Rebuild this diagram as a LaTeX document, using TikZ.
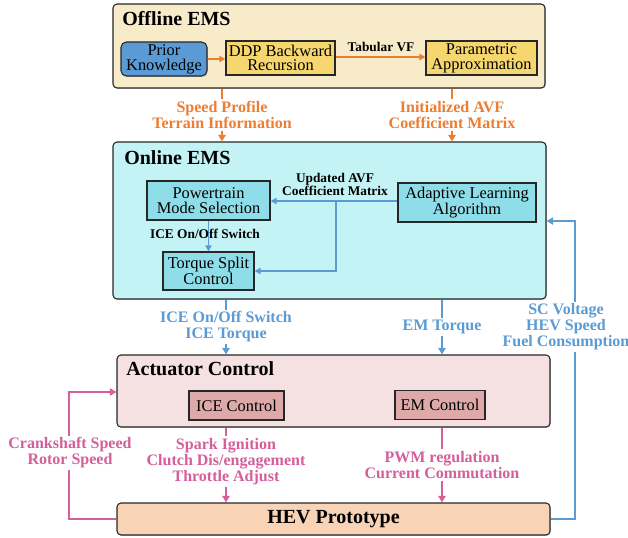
\documentclass[tikz,border=0pt]{standalone}
\usepackage{fontspec}
\setmainfont{Liberation Serif}
\usetikzlibrary{arrows.meta,shadows}

\definecolor{offlinebg}{HTML}{F7EBC9}
\definecolor{onlinebg}{HTML}{C4F3F6}
\definecolor{actbg}{HTML}{F5E1E2}
\definecolor{hevbg}{HTML}{F9D3B5}
\definecolor{priorbg}{HTML}{5B9BD5}
\definecolor{goldbg}{HTML}{F6D66E}
\definecolor{cyanbg}{HTML}{8EDDE8}
\definecolor{rosebg}{HTML}{DEA9A9}
\definecolor{orangeC}{HTML}{ED7D31}
\definecolor{blueC}{HTML}{5B9BD5}
\definecolor{pinkC}{HTML}{D45F9B}
\definecolor{edge}{HTML}{262626}

\begin{document}
\begin{tikzpicture}[x=0.75pt,y=-0.75pt,
  group/.style={draw=edge, line width=0.8pt, rounded corners=3pt, inner sep=0pt,
    drop shadow={shadow xshift=0.7pt, shadow yshift=-0.7pt, opacity=0.35}},
  blk/.style={draw=edge, line width=0.8pt, align=center, inner sep=0pt,
    font=\fontsize{12.3}{11}\selectfont,
    drop shadow={shadow xshift=0.7pt, shadow yshift=-0.7pt, opacity=0.35}},
  grouptitle/.style={anchor=west, inner sep=0pt, font=\bfseries\fontsize{15}{15}\selectfont},
  lbl/.style={align=center, fill=white, inner sep=1.5pt, font=\bfseries\fontsize{12}{12}\selectfont},
  smalllbl/.style={align=center, inner sep=0pt, font=\bfseries\fontsize{10}{10}\selectfont},
  conn/.style={line width=1.4pt, -{Triangle[length=5pt,width=5.5pt]}},
  thinconn/.style={line width=1.1pt, -{Triangle[length=4.5pt,width=4.5pt]}},
  loop/.style={line width=1.4pt}
]
\useasboundingbox (0,0) rectangle (628,537);

% ---------- Offline EMS ----------
\node[group, fill=offlinebg, minimum width=324pt, minimum height=63pt] (offline) at (329,46) {};
\node[grouptitle] (offtitle) at (122,19) {Offline EMS};
\node[blk, fill=priorbg, rounded corners=4pt, minimum width=64.5pt, minimum height=25.5pt] (prior) at (164,59) {Prior\\Knowledge};
\node[blk, fill=goldbg, minimum width=81.75pt, minimum height=25.5pt] (ddp) at (280.5,58) {DDP Backward\\Recursion};
\node[blk, fill=goldbg, minimum width=83.25pt, minimum height=25.5pt] (param) at (481.5,58) {Parametric\\Approximation};
\draw[thinconn, orangeC] (prior.east) -- (prior.east -| ddp.west);
\draw[thinconn, orangeC] (ddp.east |- 0,57) -- (param.west |- 0,57);
\node[smalllbl] (tabvf) at (381,47) {Tabular VF};

% ---------- Online EMS ----------
\node[group, fill=onlinebg, minimum width=324.75pt, minimum height=117.75pt] (online) at (329.5,220.5) {};
\node[grouptitle] (ontitle) at (124,158) {Online EMS};
\node[blk, fill=cyanbg, minimum width=92.25pt, minimum height=29.25pt] (pms) at (208.5,200.5) {Powertrain\\Mode Selection};
\node[blk, fill=cyanbg, minimum width=103.5pt, minimum height=29.25pt] (adapt) at (467,202.5) {Adaptive Learning\\Algorithm};
\node[blk, fill=cyanbg, minimum width=68.25pt, minimum height=28.5pt] (tsc) at (208.5,271) {Torque Split\\Control};
\coordinate (xbr) at (336,0);
\draw[thinconn, blueC] (adapt.west |- 0,201) -- (pms.east |- 0,201);
\draw[thinconn, blueC] (adapt.west |- 0,201) -| (xbr |- tsc.east) -- (tsc.east);
\node[smalllbl] (updlbl) at (335,184.5) {Updated AVF\\Coefficient Matrix};
\draw[thinconn, blueC] (pms.south) -- (tsc.north);
\node[smalllbl] (icesw) at (205,234) {ICE On/Off Switch};

% ---------- Actuator Control ----------
\node[group, fill=actbg, minimum width=324.75pt, minimum height=54pt] (act) at (333.5,391) {};
\node[grouptitle] (acttitle) at (126,369) {Actuator Control};
\node[blk, fill=rosebg, minimum width=71.25pt, minimum height=21.75pt] (icec) at (236.5,405.5) {ICE Control};
\node[blk, fill=rosebg, minimum width=67.5pt, minimum height=21.75pt] (emc) at (440,405) {EM Control};

% ---------- HEV Prototype ----------
\node[group, fill=hevbg, minimum width=324.75pt, minimum height=24pt,
      font=\bfseries\fontsize{15}{15}\selectfont] (hev) at (333.5,519) {HEV Prototype};

% ---------- Connectors between the layers ----------
\coordinate (xa) at (222,0);
\coordinate (xb) at (452,0);
\coordinate (xc) at (226,0);
\coordinate (xd) at (442,0);

\draw[conn, orangeC] (offline.south -| xa) -- node[lbl, text=orangeC] {Speed Profile\\Terrain Information} (online.north -| xa);
\draw[conn, orangeC] (offline.south -| xb) -- node[lbl, text=orangeC] {Initialized AVF\\Coefficient Matrix} (online.north -| xb);

\draw[conn, blueC] (online.south -| xc) -- node[lbl, text=blueC] {ICE On/Off Switch\\ICE Torque} (act.north -| xc);
\draw[conn, blueC] (online.south -| xd) -- node[lbl, text=blueC] {EM Torque} (act.north -| xd);

\draw[conn, pinkC] (act.south -| xc) -- node[lbl, text=pinkC, pos=0.45] {Spark Ignition\\Clutch Dis/engagement\\Throttle Adjust} (hev.north -| xc);
\draw[conn, pinkC] (act.south -| xd) -- node[lbl, text=pinkC] {PWM regulation\\Current Commutation} (hev.north -| xd);

% ---------- Feedback loops ----------
\coordinate (rloop) at (575,221);
\draw[loop, blueC, -{Triangle[length=5pt,width=5.5pt]}] (hev.east) -| (rloop) -- (online.east |- rloop);
\node[lbl, text=blueC, inner sep=1pt] (fbright) at (566,327) {SC Voltage\\HEV Speed\\Fuel Consumption};

\coordinate (lloop) at (69,392);
\draw[loop, pinkC, -{Triangle[length=5pt,width=5.5pt]}] (hev.west) -| (lloop) -- (act.west |- lloop);
\node[lbl, text=pinkC] (fbleft) at (70,453) {Crankshaft Speed\\Rotor Speed};
\end{tikzpicture}
\end{document}
